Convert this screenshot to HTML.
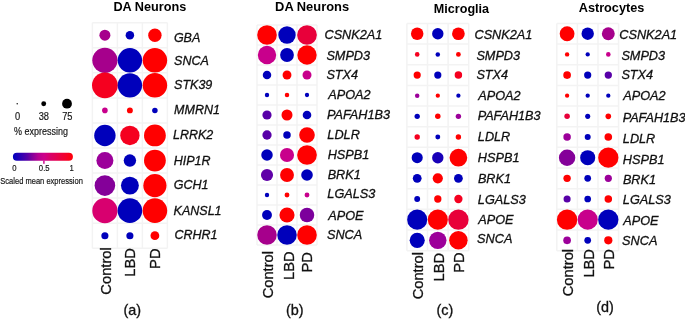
<!DOCTYPE html>
<html><head><meta charset="utf-8"><style>
html,body{margin:0;padding:0;background:#fff;}
body{width:685px;height:320px;overflow:hidden;}
svg{display:block;font-family:"Liberation Sans",Arial,sans-serif;}
.g{font-style:italic;fill:#111;stroke:#111;stroke-width:0.3px;}
.t{font-weight:bold;fill:#000;}
.x,.s{fill:#111;stroke:#111;stroke-width:0.3px;}
.l{fill:#151515;stroke:#151515;stroke-width:0.15px;}
</style></head><body>
<svg width="685" height="320" viewBox="0 0 685 320">
<defs><linearGradient id="cg" x1="0" x2="1" y1="0" y2="0">
<stop offset="0" stop-color="#0000be"/>
<stop offset="0.12" stop-color="#2800b4"/>
<stop offset="0.25" stop-color="#5a00a5"/>
<stop offset="0.32" stop-color="#82009b"/>
<stop offset="0.42" stop-color="#b40091"/>
<stop offset="0.52" stop-color="#cd008a"/>
<stop offset="0.62" stop-color="#d8006a"/>
<stop offset="0.75" stop-color="#e6004a"/>
<stop offset="0.88" stop-color="#f4002a"/>
<stop offset="1" stop-color="#ff0008"/>
</linearGradient></defs>
<rect width="685" height="320" fill="#fff"/>
<path d="M92.40 22.70V248.24M117.40 22.70V248.24M142.40 22.70V248.24M167.40 22.70V248.24M92.40 22.70H167.40M92.40 47.76H167.40M92.40 72.82H167.40M92.40 97.88H167.40M92.40 122.94H167.40M92.40 148.00H167.40M92.40 173.06H167.40M92.40 198.12H167.40M92.40 223.18H167.40M92.40 248.24H167.40" stroke="#f3f3f3" stroke-width="1.5" fill="none"/>
<circle cx="104.90" cy="35.23" r="5.50" fill="#a6008c"/>
<circle cx="129.90" cy="35.23" r="4.25" fill="#0000bb"/>
<circle cx="154.90" cy="35.23" r="6.70" fill="#ff0000"/>
<circle cx="104.90" cy="60.29" r="12.60" fill="#a6008c"/>
<circle cx="129.90" cy="60.29" r="12.20" fill="#0000bb"/>
<circle cx="154.90" cy="60.29" r="12.25" fill="#ff0000"/>
<circle cx="104.90" cy="85.35" r="12.90" fill="#f5001f"/>
<circle cx="129.90" cy="85.35" r="12.20" fill="#0000bb"/>
<circle cx="154.90" cy="85.35" r="12.25" fill="#ff0000"/>
<circle cx="104.90" cy="110.41" r="2.80" fill="#c8008c"/>
<circle cx="129.90" cy="110.41" r="2.95" fill="#ff0000"/>
<circle cx="154.90" cy="110.41" r="2.75" fill="#0000bb"/>
<circle cx="104.90" cy="135.47" r="10.70" fill="#0000bb"/>
<circle cx="129.90" cy="135.47" r="9.70" fill="#f5001f"/>
<circle cx="154.90" cy="135.47" r="10.90" fill="#ff0000"/>
<circle cx="104.90" cy="160.53" r="8.50" fill="#9c009a"/>
<circle cx="129.90" cy="160.53" r="6.20" fill="#0000bb"/>
<circle cx="154.90" cy="160.53" r="10.90" fill="#ff0000"/>
<circle cx="104.90" cy="185.59" r="10.30" fill="#840099"/>
<circle cx="129.90" cy="185.59" r="8.95" fill="#0000bb"/>
<circle cx="154.90" cy="185.59" r="11.60" fill="#ff0000"/>
<circle cx="104.90" cy="210.65" r="12.60" fill="#d8006f"/>
<circle cx="129.90" cy="210.65" r="12.30" fill="#0000bb"/>
<circle cx="154.90" cy="210.65" r="12.30" fill="#ff0000"/>
<circle cx="104.90" cy="235.71" r="3.55" fill="#0000bb"/>
<circle cx="129.90" cy="235.71" r="3.55" fill="#0000bb"/>
<circle cx="154.90" cy="235.71" r="4.40" fill="#ff0000"/>
<text class="g" x="173.89" y="42.00" font-size="12.5">GBA</text>
<text class="g" x="174.12" y="65.00" font-size="12.5">SNCA</text>
<text class="g" x="174.12" y="89.00" font-size="12.5">STK39</text>
<text class="g" x="174.10" y="114.00" font-size="12.5">MMRN1</text>
<text class="g" x="173.02" y="139.00" font-size="12.5">LRRK2</text>
<text class="g" x="173.70" y="165.00" font-size="12.5">HIP1R</text>
<text class="g" x="173.75" y="189.00" font-size="12.5">GCH1</text>
<text class="g" x="173.61" y="215.00" font-size="12.5">KANSL1</text>
<text class="g" x="174.40" y="239.00" font-size="12.5">CRHR1</text>
<text class="t" x="113.43" y="11.20" font-size="12.7">DA Neurons</text>
<text class="x" transform="translate(111.00,247.28) rotate(-90)" font-size="14.7" text-anchor="end">Control</text>
<text class="x" transform="translate(135.00,248.10) rotate(-90)" font-size="14.7" text-anchor="end">LBD</text>
<text class="x" transform="translate(160.00,248.51) rotate(-90)" font-size="14.7" text-anchor="end">PD</text>
<text class="s" x="123.40" y="315.00" font-size="14.4">(a)</text>
<path d="M257.00 25.00V245.00M277.00 25.00V245.00M297.00 25.00V245.00M317.00 25.00V245.00M257.00 25.00H317.00M257.00 45.00H317.00M257.00 65.00H317.00M257.00 85.00H317.00M257.00 105.00H317.00M257.00 125.00H317.00M257.00 145.00H317.00M257.00 165.00H317.00M257.00 185.00H317.00M257.00 205.00H317.00M257.00 225.00H317.00M257.00 245.00H317.00" stroke="#f3f3f3" stroke-width="1.5" fill="none"/>
<circle cx="267.00" cy="35.00" r="9.80" fill="#ff0000"/>
<circle cx="287.00" cy="35.00" r="8.70" fill="#0000bb"/>
<circle cx="307.00" cy="35.00" r="9.85" fill="#e8003a"/>
<circle cx="267.00" cy="55.00" r="9.20" fill="#c8008c"/>
<circle cx="287.00" cy="55.00" r="6.90" fill="#0000bb"/>
<circle cx="307.00" cy="55.00" r="9.70" fill="#ff0000"/>
<circle cx="267.00" cy="75.00" r="4.25" fill="#0000bb"/>
<circle cx="287.00" cy="75.00" r="4.45" fill="#ff0000"/>
<circle cx="307.00" cy="75.00" r="4.50" fill="#c8008c"/>
<circle cx="267.00" cy="95.00" r="2.20" fill="#0000bb"/>
<circle cx="287.00" cy="95.00" r="2.25" fill="#ff0000"/>
<circle cx="307.00" cy="95.00" r="2.15" fill="#0000bb"/>
<circle cx="267.00" cy="115.00" r="4.60" fill="#5800a8"/>
<circle cx="287.00" cy="115.00" r="5.50" fill="#ff0000"/>
<circle cx="307.00" cy="115.00" r="4.30" fill="#0000bb"/>
<circle cx="267.00" cy="135.00" r="4.65" fill="#5800a8"/>
<circle cx="287.00" cy="135.00" r="3.75" fill="#0000bb"/>
<circle cx="307.00" cy="135.00" r="7.80" fill="#ff0000"/>
<circle cx="267.00" cy="155.00" r="5.75" fill="#0000bb"/>
<circle cx="287.00" cy="155.00" r="7.05" fill="#c8008c"/>
<circle cx="307.00" cy="155.00" r="9.85" fill="#ff0000"/>
<circle cx="267.00" cy="175.00" r="6.05" fill="#6000a8"/>
<circle cx="287.00" cy="175.00" r="6.95" fill="#ff0000"/>
<circle cx="307.00" cy="175.00" r="5.80" fill="#0000bb"/>
<circle cx="267.00" cy="195.00" r="2.20" fill="#0000bb"/>
<circle cx="287.00" cy="195.00" r="2.45" fill="#ff0000"/>
<circle cx="307.00" cy="195.00" r="2.45" fill="#c8008c"/>
<circle cx="267.00" cy="215.00" r="4.95" fill="#0000bb"/>
<circle cx="287.00" cy="215.00" r="7.55" fill="#ff0000"/>
<circle cx="307.00" cy="215.00" r="7.25" fill="#7c009c"/>
<circle cx="267.00" cy="235.00" r="9.75" fill="#a6008c"/>
<circle cx="287.00" cy="235.00" r="9.75" fill="#0000bb"/>
<circle cx="307.00" cy="235.00" r="9.80" fill="#ff0000"/>
<text class="g" x="324.47" y="39.00" font-size="12.7">CSNK2A1</text>
<text class="g" x="326.38" y="60.00" font-size="12.7">SMPD3</text>
<text class="g" x="326.38" y="79.00" font-size="12.7">STX4</text>
<text class="g" x="328.23" y="99.00" font-size="12.7">APOA2</text>
<text class="g" x="327.01" y="119.00" font-size="12.7">PAFAH1B3</text>
<text class="g" x="327.36" y="139.00" font-size="12.7">LDLR</text>
<text class="g" x="327.64" y="159.00" font-size="12.7">HSPB1</text>
<text class="g" x="327.64" y="179.00" font-size="12.7">BRK1</text>
<text class="g" x="327.36" y="198.00" font-size="12.7">LGALS3</text>
<text class="g" x="328.23" y="220.00" font-size="12.7">APOE</text>
<text class="g" x="326.98" y="239.00" font-size="12.7">SNCA</text>
<text class="t" x="275.08" y="10.60" font-size="12.9">DA Neurons</text>
<text class="x" transform="translate(273.00,250.96) rotate(-90)" font-size="14.7" text-anchor="end">Control</text>
<text class="x" transform="translate(294.00,251.40) rotate(-90)" font-size="14.7" text-anchor="end">LBD</text>
<text class="x" transform="translate(312.00,252.03) rotate(-90)" font-size="14.7" text-anchor="end">PD</text>
<text class="s" x="285.91" y="315.00" font-size="14.4">(b)</text>
<path d="M406.90 23.40V250.66M427.50 23.40V250.66M448.10 23.40V250.66M468.70 23.40V250.66M406.90 23.40H468.70M406.90 44.06H468.70M406.90 64.72H468.70M406.90 85.38H468.70M406.90 106.04H468.70M406.90 126.70H468.70M406.90 147.36H468.70M406.90 168.02H468.70M406.90 188.68H468.70M406.90 209.34H468.70M406.90 230.00H468.70M406.90 250.66H468.70" stroke="#f3f3f3" stroke-width="1.5" fill="none"/>
<circle cx="417.20" cy="33.73" r="6.25" fill="#ff0000"/>
<circle cx="437.80" cy="33.73" r="5.70" fill="#0000bb"/>
<circle cx="458.40" cy="33.73" r="6.35" fill="#ff0000"/>
<circle cx="417.20" cy="54.39" r="2.30" fill="#f5001f"/>
<circle cx="437.80" cy="54.39" r="2.25" fill="#0000bb"/>
<circle cx="458.40" cy="54.39" r="2.40" fill="#ff0000"/>
<circle cx="417.20" cy="75.05" r="3.60" fill="#ff0000"/>
<circle cx="437.80" cy="75.05" r="3.60" fill="#0000bb"/>
<circle cx="458.40" cy="75.05" r="3.75" fill="#f5001f"/>
<circle cx="417.20" cy="95.71" r="2.25" fill="#9c009a"/>
<circle cx="437.80" cy="95.71" r="2.15" fill="#ff0000"/>
<circle cx="458.40" cy="95.71" r="2.15" fill="#0000bb"/>
<circle cx="417.20" cy="116.37" r="2.65" fill="#0000bb"/>
<circle cx="437.80" cy="116.37" r="2.75" fill="#ff0000"/>
<circle cx="458.40" cy="116.37" r="2.70" fill="#9c009a"/>
<circle cx="417.20" cy="137.03" r="2.70" fill="#f5001f"/>
<circle cx="437.80" cy="137.03" r="2.45" fill="#0000bb"/>
<circle cx="458.40" cy="137.03" r="2.70" fill="#ff0000"/>
<circle cx="417.20" cy="157.69" r="5.55" fill="#0000bb"/>
<circle cx="437.80" cy="157.69" r="5.70" fill="#1800b8"/>
<circle cx="458.40" cy="157.69" r="8.85" fill="#ff0000"/>
<circle cx="417.20" cy="178.35" r="4.40" fill="#0000bb"/>
<circle cx="437.80" cy="178.35" r="5.10" fill="#ff0000"/>
<circle cx="458.40" cy="178.35" r="4.40" fill="#0000bb"/>
<circle cx="417.20" cy="199.01" r="2.95" fill="#0000bb"/>
<circle cx="437.80" cy="199.01" r="3.65" fill="#ff0000"/>
<circle cx="458.40" cy="199.01" r="4.15" fill="#f5001f"/>
<circle cx="417.20" cy="219.67" r="10.05" fill="#0000bb"/>
<circle cx="437.80" cy="219.67" r="10.05" fill="#ff0000"/>
<circle cx="458.40" cy="219.67" r="10.20" fill="#e8003a"/>
<circle cx="417.20" cy="240.33" r="7.55" fill="#0000bb"/>
<circle cx="437.80" cy="240.33" r="8.70" fill="#9c009a"/>
<circle cx="458.40" cy="240.33" r="9.25" fill="#ff0000"/>
<text class="g" x="474.47" y="39.00" font-size="12.7">CSNK2A1</text>
<text class="g" x="476.38" y="60.00" font-size="12.7">SMPD3</text>
<text class="g" x="476.38" y="79.00" font-size="12.7">STX4</text>
<text class="g" x="478.23" y="100.00" font-size="12.7">APOA2</text>
<text class="g" x="477.64" y="120.00" font-size="12.7">PAFAH1B3</text>
<text class="g" x="477.83" y="141.00" font-size="12.7">LDLR</text>
<text class="g" x="477.87" y="162.00" font-size="12.7">HSPB1</text>
<text class="g" x="477.88" y="183.00" font-size="12.7">BRK1</text>
<text class="g" x="477.83" y="204.00" font-size="12.7">LGALS3</text>
<text class="g" x="478.23" y="224.00" font-size="12.7">APOE</text>
<text class="g" x="477.12" y="243.00" font-size="12.7">SNCA</text>
<text class="t" x="433.85" y="12.70" font-size="12.6">Microglia</text>
<text class="x" transform="translate(423.00,251.97) rotate(-90)" font-size="14.7" text-anchor="end">Control</text>
<text class="x" transform="translate(444.00,252.83) rotate(-90)" font-size="14.7" text-anchor="end">LBD</text>
<text class="x" transform="translate(464.00,252.40) rotate(-90)" font-size="14.7" text-anchor="end">PD</text>
<text class="s" x="436.51" y="315.00" font-size="14.4">(c)</text>
<path d="M556.80 23.40V250.66M577.40 23.40V250.66M598.00 23.40V250.66M618.60 23.40V250.66M556.80 23.40H618.60M556.80 44.06H618.60M556.80 64.72H618.60M556.80 85.38H618.60M556.80 106.04H618.60M556.80 126.70H618.60M556.80 147.36H618.60M556.80 168.02H618.60M556.80 188.68H618.60M556.80 209.34H618.60M556.80 230.00H618.60M556.80 250.66H618.60" stroke="#f3f3f3" stroke-width="1.5" fill="none"/>
<circle cx="567.10" cy="33.73" r="7.40" fill="#ff0000"/>
<circle cx="587.70" cy="33.73" r="6.20" fill="#0000bb"/>
<circle cx="608.30" cy="33.73" r="6.45" fill="#a6008c"/>
<circle cx="567.10" cy="54.39" r="2.20" fill="#ff0000"/>
<circle cx="587.70" cy="54.39" r="2.15" fill="#0000bb"/>
<circle cx="608.30" cy="54.39" r="2.30" fill="#c8008c"/>
<circle cx="567.10" cy="75.05" r="3.85" fill="#ff0000"/>
<circle cx="587.70" cy="75.05" r="3.60" fill="#0000bb"/>
<circle cx="608.30" cy="75.05" r="3.65" fill="#5800a8"/>
<circle cx="567.10" cy="95.71" r="2.15" fill="#ff0000"/>
<circle cx="587.70" cy="95.71" r="2.15" fill="#0000bb"/>
<circle cx="608.30" cy="95.71" r="2.15" fill="#0000bb"/>
<circle cx="567.10" cy="116.37" r="2.75" fill="#e8003a"/>
<circle cx="587.70" cy="116.37" r="2.55" fill="#0000bb"/>
<circle cx="608.30" cy="116.37" r="2.80" fill="#ff0000"/>
<circle cx="567.10" cy="137.03" r="3.75" fill="#9c009a"/>
<circle cx="587.70" cy="137.03" r="3.00" fill="#0000bb"/>
<circle cx="608.30" cy="137.03" r="3.80" fill="#ff0000"/>
<circle cx="567.10" cy="157.69" r="8.20" fill="#840099"/>
<circle cx="587.70" cy="157.69" r="7.55" fill="#0000bb"/>
<circle cx="608.30" cy="157.69" r="10.15" fill="#ff0000"/>
<circle cx="567.10" cy="178.35" r="3.70" fill="#ff0000"/>
<circle cx="587.70" cy="178.35" r="3.35" fill="#0000bb"/>
<circle cx="608.30" cy="178.35" r="3.60" fill="#9c009a"/>
<circle cx="567.10" cy="199.01" r="3.55" fill="#5800a8"/>
<circle cx="587.70" cy="199.01" r="3.35" fill="#0000bb"/>
<circle cx="608.30" cy="199.01" r="3.75" fill="#ff0000"/>
<circle cx="567.10" cy="219.67" r="10.20" fill="#ff0000"/>
<circle cx="587.70" cy="219.67" r="10.05" fill="#c8008c"/>
<circle cx="608.30" cy="219.67" r="10.15" fill="#0000bb"/>
<circle cx="567.10" cy="240.33" r="3.85" fill="#9c009a"/>
<circle cx="587.70" cy="240.33" r="3.35" fill="#0000bb"/>
<circle cx="608.30" cy="240.33" r="4.10" fill="#ff0000"/>
<text class="g" x="619.34" y="39.00" font-size="12.7">CSNK2A1</text>
<text class="g" x="621.38" y="60.00" font-size="12.7">SMPD3</text>
<text class="g" x="621.38" y="79.00" font-size="12.7">STX4</text>
<text class="g" x="623.23" y="100.00" font-size="12.7">APOA2</text>
<text class="g" x="622.64" y="122.00" font-size="12.7">PAFAH1B3</text>
<text class="g" x="622.83" y="143.00" font-size="12.7">LDLR</text>
<text class="g" x="622.87" y="164.00" font-size="12.7">HSPB1</text>
<text class="g" x="622.88" y="184.00" font-size="12.7">BRK1</text>
<text class="g" x="622.83" y="204.00" font-size="12.7">LGALS3</text>
<text class="g" x="623.23" y="225.00" font-size="12.7">APOE</text>
<text class="g" x="622.12" y="245.00" font-size="12.7">SNCA</text>
<text class="t" x="578.74" y="12.00" font-size="12.7">Astrocytes</text>
<text class="x" transform="translate(573.00,248.91) rotate(-90)" font-size="14.7" text-anchor="end">Control</text>
<text class="x" transform="translate(594.00,249.03) rotate(-90)" font-size="14.7" text-anchor="end">LBD</text>
<text class="x" transform="translate(614.00,249.03) rotate(-90)" font-size="14.7" text-anchor="end">PD</text>
<text class="s" x="596.21" y="312.00" font-size="14.4">(d)</text>
<circle cx="17.2" cy="103.7" r="0.7" fill="#000"/>
<circle cx="43.7" cy="103.7" r="2.45" fill="#000"/>
<circle cx="67.0" cy="103.7" r="4.9" fill="#000"/>
<text class="l" transform="translate(17.6,119.8) scale(1.0,1.25)" font-size="9.3" text-anchor="middle">0</text>
<text class="l" transform="translate(43.8,119.8) scale(1.0,1.25)" font-size="9.3" text-anchor="middle">38</text>
<text class="l" transform="translate(67.3,119.8) scale(1.0,1.25)" font-size="9.3" text-anchor="middle">75</text>
<text class="l" transform="translate(14.0,134.9) scale(1.0,1.15)" font-size="9.0">% expressing</text>
<rect x="12.9" y="152.7" width="60" height="8" rx="4" fill="url(#cg)"/>
<rect x="43.2" y="160.6" width="1.4" height="3.2" fill="#c8008c"/>
<text class="l" transform="translate(14.4,170.7) scale(1.0,1.2)" font-size="7.7" text-anchor="middle">0</text>
<text class="l" transform="translate(44.2,170.7) scale(1.0,1.2)" font-size="7.7" text-anchor="middle">0.5</text>
<text class="l" transform="translate(71.7,170.7) scale(1.0,1.2)" font-size="7.7" text-anchor="middle">1</text>
<text class="l" transform="translate(0.3,184.0) scale(1.0,1.25)" font-size="7.55">Scaled mean expression</text>
</svg>
</body></html>
